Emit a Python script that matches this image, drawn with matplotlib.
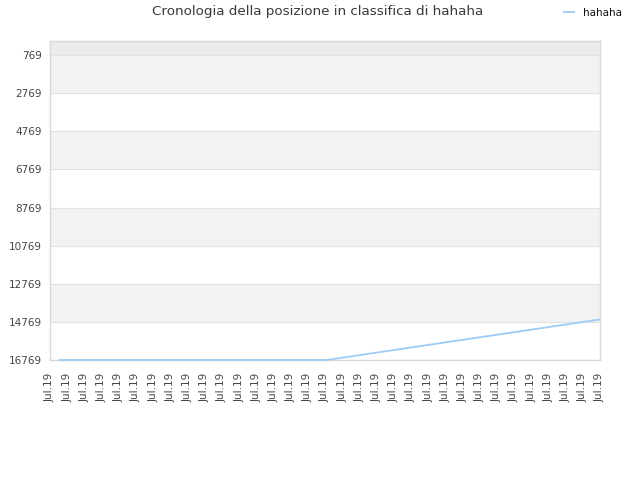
import matplotlib
matplotlib.use("Agg")
import matplotlib.pyplot as plt

# === DATA ===
title = "Cronologia della posizione in classifica di hahaha"
series_name = "hahaha"
tick_labels = ["Jul.19"] * 33
y_ticks = [769, 2769, 4769, 6769, 8769, 10769, 12769, 14769, 16769]
days = [0.5, 16.1, 32.0]
ranks = [16769, 16769, 14640]

# === STYLE ===
LINE_COLOR = "#9dcbf4"
GRID_COLOR = "#e2e2e2"
BAND_COLOR = "#f2f2f2"
TEXT_COLOR = "#444444"

fig = plt.figure(figsize=(6.4, 4.8), dpi=100)
ax = fig.add_axes([50 / 640, 120 / 480, 550 / 640, 319 / 480])

ax.set_xlim(0, len(tick_labels) - 1)
ax.set_ylim(16769, 30)

# alternating bands
ax.axhspan(30, 769, color="#ececec", zorder=0, lw=0)
for i in range(0, len(y_ticks) - 1, 2):
    ax.axhspan(y_ticks[i], y_ticks[i + 1], color=BAND_COLOR, zorder=0, lw=0)

for y in y_ticks:
    ax.axhline(y, color=GRID_COLOR, lw=0.8, zorder=1)

ax.plot(days, ranks, color=LINE_COLOR, lw=1.3, zorder=3, clip_on=False,
        label=series_name, solid_capstyle="butt")

ax.set_yticks(y_ticks)
ax.set_yticklabels([str(v) for v in y_ticks], fontsize=7.5, color=TEXT_COLOR)
ax.set_xticks(range(len(tick_labels)))
ax.set_xticklabels(tick_labels, rotation=90, fontsize=7.5, color=TEXT_COLOR)
ax.tick_params(axis="y", length=0, pad=6)
ax.tick_params(axis="x", length=0, pad=9)

for side in ax.spines.values():
    side.set_color("#d8d8d8")
    side.set_linewidth(1)

fig.text(318 / 640, 1 - 12 / 480, title, ha="center", va="center",
         fontsize=9.7, color="#3a3a3a")

leg = fig.legend(loc="center left", bbox_to_anchor=(559 / 640, 1 - 13 / 480),
                 frameon=False, fontsize=7.5, handlelength=1.1,
                 handletextpad=0.8, borderaxespad=0)
for t in leg.get_texts():
    t.set_color("#111111")

fig.savefig("out.png", dpi=100)
